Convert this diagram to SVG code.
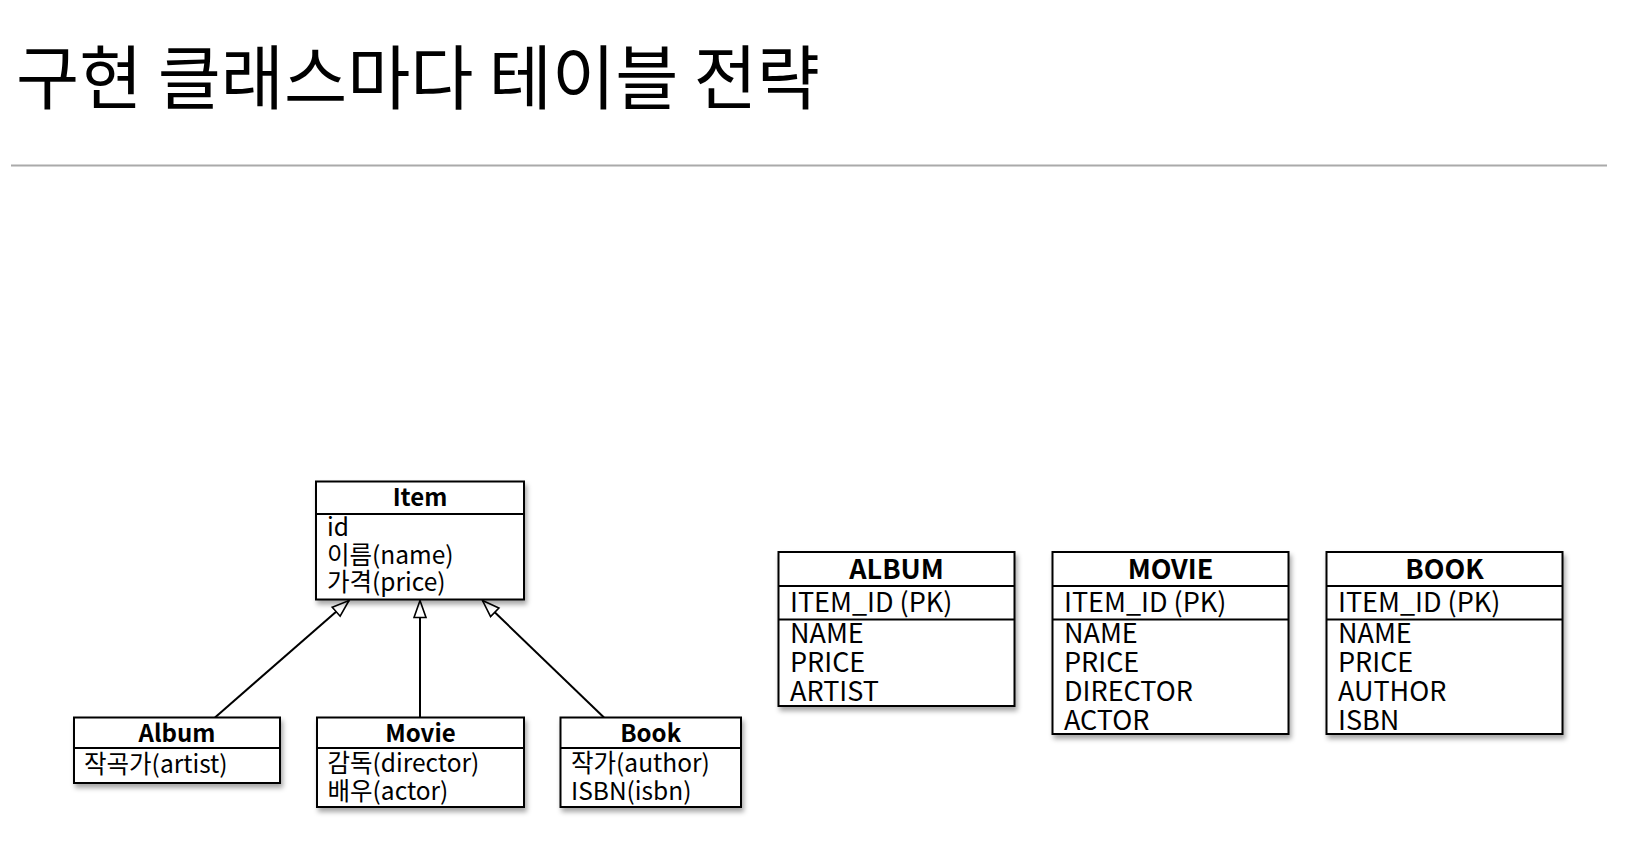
<svg xmlns="http://www.w3.org/2000/svg" width="1652" height="860" viewBox="0 0 1652 860">
<defs>
<filter id="sh" x="-10%" y="-10%" width="130%" height="140%">
<feDropShadow dx="2" dy="4" stdDeviation="2.5" flood-color="#000" flood-opacity="0.35"/>
</filter>
<marker id="tri" markerUnits="userSpaceOnUse" markerWidth="20" markerHeight="16" refX="18" refY="7" orient="auto" viewBox="0 0 20 16">
<path d="M1,1 L18,7 L1,13 Z" fill="#fff" stroke="#000" stroke-width="1.6" stroke-linejoin="miter"/>
</marker>
</defs>
<style>
text{font-family:"Noto Sans CJK KR","Noto Sans",sans-serif;fill:#000}
.box{fill:#fff;stroke:#000;stroke-width:2}
.div{stroke:#000;stroke-width:2}
.hd{font-weight:bold;font-size:24px;text-anchor:middle}
.at{font-size:24.5px}
.th{font-weight:bold;font-size:27px;text-anchor:middle}
.tc{font-size:27px}
.cn{stroke:#000;stroke-width:2;fill:none;marker-end:url(#tri)}
</style>
<rect width="1652" height="860" fill="#fff"/>
<text x="16" y="104" font-size="70" textLength="804" lengthAdjust="spacingAndGlyphs">구현 클래스마다 테이블 전략</text>
<line x1="11" y1="165.5" x2="1607" y2="165.5" stroke="#aaa" stroke-width="2"/>

<g id="connectors">
<line class="cn" x1="215" y1="717.5" x2="349" y2="600.5"/>
<line class="cn" x1="420" y1="717.5" x2="420" y2="600.5"/>
<line class="cn" x1="604" y1="717.5" x2="482.5" y2="600.5"/>
</g>

<g id="Item">
<rect class="box" filter="url(#sh)" x="316" y="481.5" width="208" height="118"/>
<line class="div" x1="316" y1="514" x2="524" y2="514"/>
<text class="hd" x="420" y="506">Item</text>
<text class="at" x="327" y="536">id</text>
<text class="at" x="327" y="563.5">이름(name)</text>
<text class="at" x="327" y="591">가격(price)</text>
</g>

<g id="Album">
<rect class="box" filter="url(#sh)" x="74" y="717.5" width="206" height="65.5"/>
<line class="div" x1="74" y1="748" x2="280" y2="748"/>
<text class="hd" x="177" y="742">Album</text>
<text class="at" x="84" y="773">작곡가(artist)</text>
</g>

<g id="Movie">
<rect class="box" filter="url(#sh)" x="317" y="717.5" width="207" height="89.5"/>
<line class="div" x1="317" y1="748" x2="524" y2="748"/>
<text class="hd" x="420.5" y="742">Movie</text>
<text class="at" x="327.5" y="772">감독(director)</text>
<text class="at" x="327.5" y="800">배우(actor)</text>
</g>

<g id="Book">
<rect class="box" filter="url(#sh)" x="560.5" y="717.5" width="180.5" height="89.5"/>
<line class="div" x1="560.5" y1="748" x2="741" y2="748"/>
<text class="hd" x="650.7" y="742">Book</text>
<text class="at" x="571" y="772">작가(author)</text>
<text class="at" x="571" y="800">ISBN(isbn)</text>
</g>

<g id="ALBUM">
<rect class="box" filter="url(#sh)" x="778.5" y="552" width="236" height="154"/>
<line class="div" x1="778.5" y1="586" x2="1014.5" y2="586"/>
<line class="div" x1="778.5" y1="619.5" x2="1014.5" y2="619.5"/>
<text class="th" x="896.5" y="579">ALBUM</text>
<text class="tc" x="790" y="612">ITEM_ID (PK)</text>
<text class="tc" x="790" y="643">NAME</text>
<text class="tc" x="790" y="672">PRICE</text>
<text class="tc" x="790" y="701">ARTIST</text>
</g>

<g id="MOVIE">
<rect class="box" filter="url(#sh)" x="1052.5" y="552" width="236" height="182"/>
<line class="div" x1="1052.5" y1="586" x2="1288.5" y2="586"/>
<line class="div" x1="1052.5" y1="619.5" x2="1288.5" y2="619.5"/>
<text class="th" x="1170.5" y="579">MOVIE</text>
<text class="tc" x="1064" y="612">ITEM_ID (PK)</text>
<text class="tc" x="1064" y="643">NAME</text>
<text class="tc" x="1064" y="672">PRICE</text>
<text class="tc" x="1064" y="701">DIRECTOR</text>
<text class="tc" x="1064" y="730">ACTOR</text>
</g>

<g id="BOOK">
<rect class="box" filter="url(#sh)" x="1326.5" y="552" width="236" height="182"/>
<line class="div" x1="1326.5" y1="586" x2="1562.5" y2="586"/>
<line class="div" x1="1326.5" y1="619.5" x2="1562.5" y2="619.5"/>
<text class="th" x="1444.5" y="579">BOOK</text>
<text class="tc" x="1338" y="612">ITEM_ID (PK)</text>
<text class="tc" x="1338" y="643">NAME</text>
<text class="tc" x="1338" y="672">PRICE</text>
<text class="tc" x="1338" y="701">AUTHOR</text>
<text class="tc" x="1338" y="730">ISBN</text>
</g>
</svg>
